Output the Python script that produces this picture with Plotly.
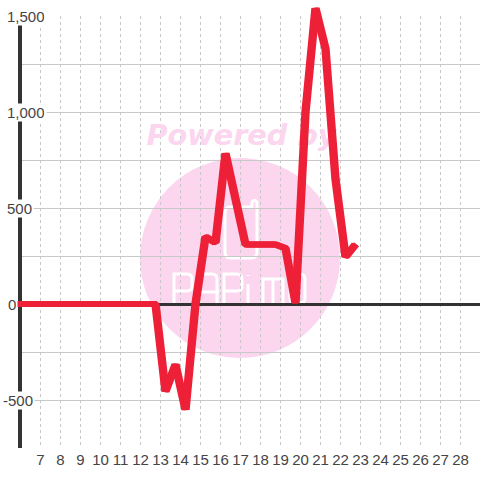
import plotly.graph_objects as go

# Data
x_values = [5.85, 6.25, 7.25, 8.25, 9.25, 10.25, 11.25, 12.25, 12.75, 13.25, 13.75, 14.25, 14.75,
            15.25, 15.75, 16.25, 16.75, 17.25, 17.75, 18.25, 18.75, 19.25, 19.75, 20.25,
            20.75, 21.25, 21.75, 22.25, 22.75]
y_values = [0, 0, 0, 0, 0, 0, 0, 0, 0, -455, -315, -550, 0,
            350, 320, 785, 530, 310, 310, 310, 310, 290, 5, 1000,
            1540, 1330, 650, 245, 310]
x_ticks = list(range(7, 29))
y_tick_vals = [1500, 1000, 500, 0, -500]
y_tick_text = ["1,500", "1,000", "500", "0", "-500"]
y_tick_left_px = [5, 5, 5, 6.5, 1]

W, H = 480, 480
L, R, T, B = 22, 0, 16, 32
TEXT = "#444444"
PINK = "#fbd6ee"
RED = "#ee2038"


def px(p):
    return (p - L) / (W - L - R)


def py(p):
    return (H - B - p) / (H - T - B)


def logo_path(points):
    """Build a paper-space SVG path from (command, px, py, ...) tuples in page pixels."""
    parts = []
    for item in points:
        cmd, *vals = item
        coords = [str(px(v) if i % 2 == 0 else py(v)) for i, v in enumerate(vals)]
        parts.append(" ".join([cmd] + coords))
    return " ".join(parts)


def logo_shape(points):
    return dict(type="path", xref="paper", yref="paper", layer="below",
                path=logo_path(points), fillcolor="rgba(0,0,0,0)",
                line=dict(color="white", width=3))


fig = go.Figure()

# Watermark text sits beneath the data line
fig.add_trace(go.Scatter(
    x=[17.05], y=[865], mode="text", text=["Powered by"], textposition="middle center",
    textfont=dict(family="DejaVu Sans", size=28.7, color=PINK, weight="bold", style="italic"),
    showlegend=False, hoverinfo="skip", cliponaxis=False))

fig.add_trace(go.Scatter(
    x=x_values, y=y_values, mode="lines",
    line=dict(color=RED, width=6), showlegend=False, cliponaxis=False))

shapes = [
    dict(type="circle", xref="paper", yref="paper", layer="below",
         x0=px(140), x1=px(340), y0=py(358), y1=py(158),
         fillcolor=PINK, line=dict(width=0)),
    # phone icon
    logo_shape([("M", 230, 207), ("L", 252, 207), ("L", 252, 202), ("Q", 254.5, 199, 257, 202),
                ("L", 257, 252), ("Q", 257, 258, 251, 258), ("L", 231, 258),
                ("Q", 225, 258, 225, 252), ("L", 225, 212), ("Q", 225, 207, 230, 207), ("Z",)]),
    # logo letters
    logo_shape([("M", 174, 303), ("L", 174, 274), ("L", 187, 274), ("Q", 192, 274, 192, 279),
                ("L", 192, 286), ("Q", 192, 291, 187, 291), ("L", 174, 291)]),
    logo_shape([("M", 199, 303), ("L", 199, 279), ("Q", 199, 274, 204, 274), ("L", 212, 274),
                ("Q", 217, 274, 217, 279), ("L", 217, 303), ("M", 199, 292), ("L", 219, 292)]),
    logo_shape([("M", 224, 303), ("L", 224, 274), ("L", 237, 274), ("Q", 242, 274, 242, 279),
                ("L", 242, 286), ("Q", 242, 291, 237, 291), ("L", 224, 291)]),
    logo_shape([("M", 248, 303), ("L", 248, 284)]),
    logo_shape([("M", 248, 275), ("L", 248, 276)]),
    logo_shape([("M", 263, 303), ("L", 263, 279), ("L", 283, 279), ("L", 283, 303),
                ("M", 273, 279), ("L", 273, 303)]),
    logo_shape([("M", 295, 274), ("L", 300, 274), ("Q", 305, 274, 305, 279), ("L", 305, 298),
                ("Q", 305, 303, 300, 303), ("L", 295, 303), ("Q", 290, 303, 290, 298),
                ("L", 290, 279), ("Q", 290, 274, 295, 274), ("Z",)]),
]

annotations = [
    dict(text=t, x=px(p), xref="paper", y=v, yref="y", xanchor="left", yanchor="middle",
         showarrow=False, align="left", bgcolor="white", borderpad=1, height=15,
         font=dict(family="Liberation Sans", size=15, color=TEXT))
    for t, v, p in zip(y_tick_text, y_tick_vals, y_tick_left_px)
]

fig.update_layout(
    width=W, height=H,
    margin=dict(l=L, r=R, t=T, b=B, pad=0),
    paper_bgcolor="white", plot_bgcolor="rgba(0,0,0,0)",
    shapes=shapes, annotations=annotations, showlegend=False,
    font=dict(family="Liberation Sans", size=15, color=TEXT),
    xaxis=dict(range=[6.075, 28.975], tickmode="array", tickvals=x_ticks,
               ticktext=[str(v) for v in x_ticks], ticks="", showline=False,
               showgrid=True, gridcolor="#c8c8c8", gridwidth=1, griddash="3px,3px",
               zeroline=False, tickfont=dict(size=15, color=TEXT), automargin=False,
               ticklabelstandoff=1, layer="below traces"),
    yaxis=dict(range=[-750, 1500], tick0=0, dtick=250, showticklabels=False, ticks="",
               showline=True, linecolor="#333333", linewidth=4,
               showgrid=True, gridcolor="#c8c8c8", gridwidth=1,
               zeroline=True, zerolinecolor="#333333", zerolinewidth=3, automargin=False,
               layer="below traces"),
)

# The reference pen is wider across than it is tall: thicken the stroke sideways only.
post = """
document.body.style.margin='0';
document.documentElement.style.overflow='hidden';
document.querySelectorAll('.js-line').forEach(function(p){
  p.style.strokeLinejoin='bevel';
  var n=p;
  while(n && n.tagName && n.tagName.toLowerCase()!=='svg'){
    if(n.removeAttribute){n.removeAttribute('clip-path');}
    if(n.style){n.style.clipPath='none';}
    n=n.parentNode;
  }
  [-1.2,1.2].forEach(function(dx){
    var c=p.cloneNode(false);
    c.setAttribute('transform','translate('+dx+',0)');
    p.parentNode.insertBefore(c,p);
  });
});
"""
fig.write_html("out.html", config={"displayModeBar": False}, post_script=post)
